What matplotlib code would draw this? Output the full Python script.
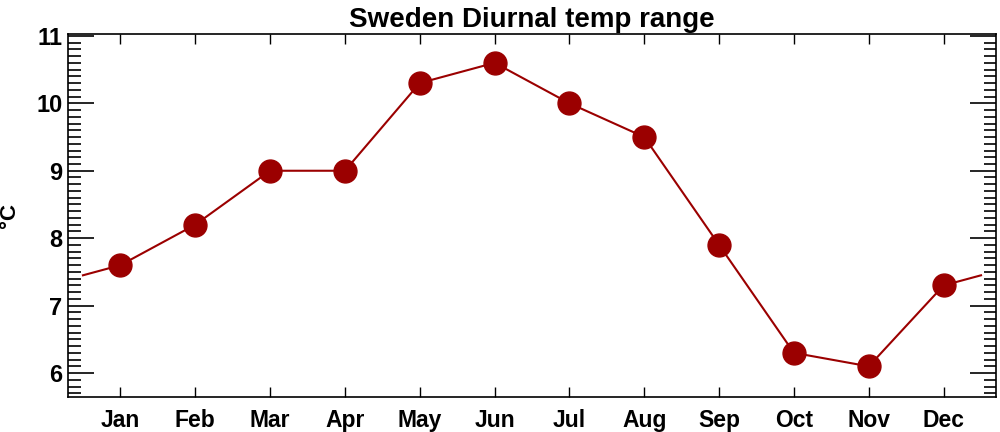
import matplotlib
matplotlib.use("Agg")
import matplotlib.pyplot as plt
from matplotlib.ticker import MultipleLocator

months = ["Jan", "Feb", "Mar", "Apr", "May", "Jun", "Jul", "Aug", "Sep", "Oct", "Nov", "Dec"]
values = [7.6, 8.2, 9.0, 9.0, 10.3, 10.6, 10.0, 9.5, 7.9, 6.3, 6.1, 7.3]

plt.rcParams['font.family'] = ['Liberation Sans', 'DejaVu Sans']
plt.rcParams['font.weight'] = 'bold'

fig = plt.figure(figsize=(10, 4.32), dpi=100)
ax = fig.add_axes([0.068, 0.0817, 0.928, 0.840])

x = list(range(1, 13))
wrap = (values[0] + values[-1]) / 2
color = '#9b0000'
ax.plot([0.5] + x + [12.5], [wrap] + values + [wrap], color=color, lw=1.5, zorder=2)
ax.plot(x, values, 'o', color=color, markersize=16.5, zorder=3)

ax.set_xlim(0.3, 12.7)
ax.set_ylim(5.65, 11.03)
ax.set_xticks(x)
ax.set_xticklabels(months)
ax.yaxis.set_major_locator(MultipleLocator(1))
ax.yaxis.set_minor_locator(MultipleLocator(0.1))
ax.tick_params(axis='y', which='major', direction='in', length=19, width=1.2, left=True, right=True, labelsize=17, pad=4)
ax.tick_params(axis='y', which='minor', direction='in', length=9, width=1.2, left=True, right=True)
ax.tick_params(axis='x', which='major', direction='in', length=7, width=1, top=True, bottom=True, labelsize=16.5, pad=9)
for s in ax.spines.values():
    s.set_linewidth(1.2)
for lab in ax.get_xticklabels() + ax.get_yticklabels():
    lab.set_fontweight('bold')

ax.set_ylabel('°C', fontsize=16, fontweight='bold')
ax.yaxis.set_label_coords(-0.0625, 0.5)
ax.yaxis.label.set_va('center')
ax.set_title('Sweden Diurnal temp range', fontsize=20, fontweight='bold', pad=5)

fig.savefig('out.png', dpi=100)
